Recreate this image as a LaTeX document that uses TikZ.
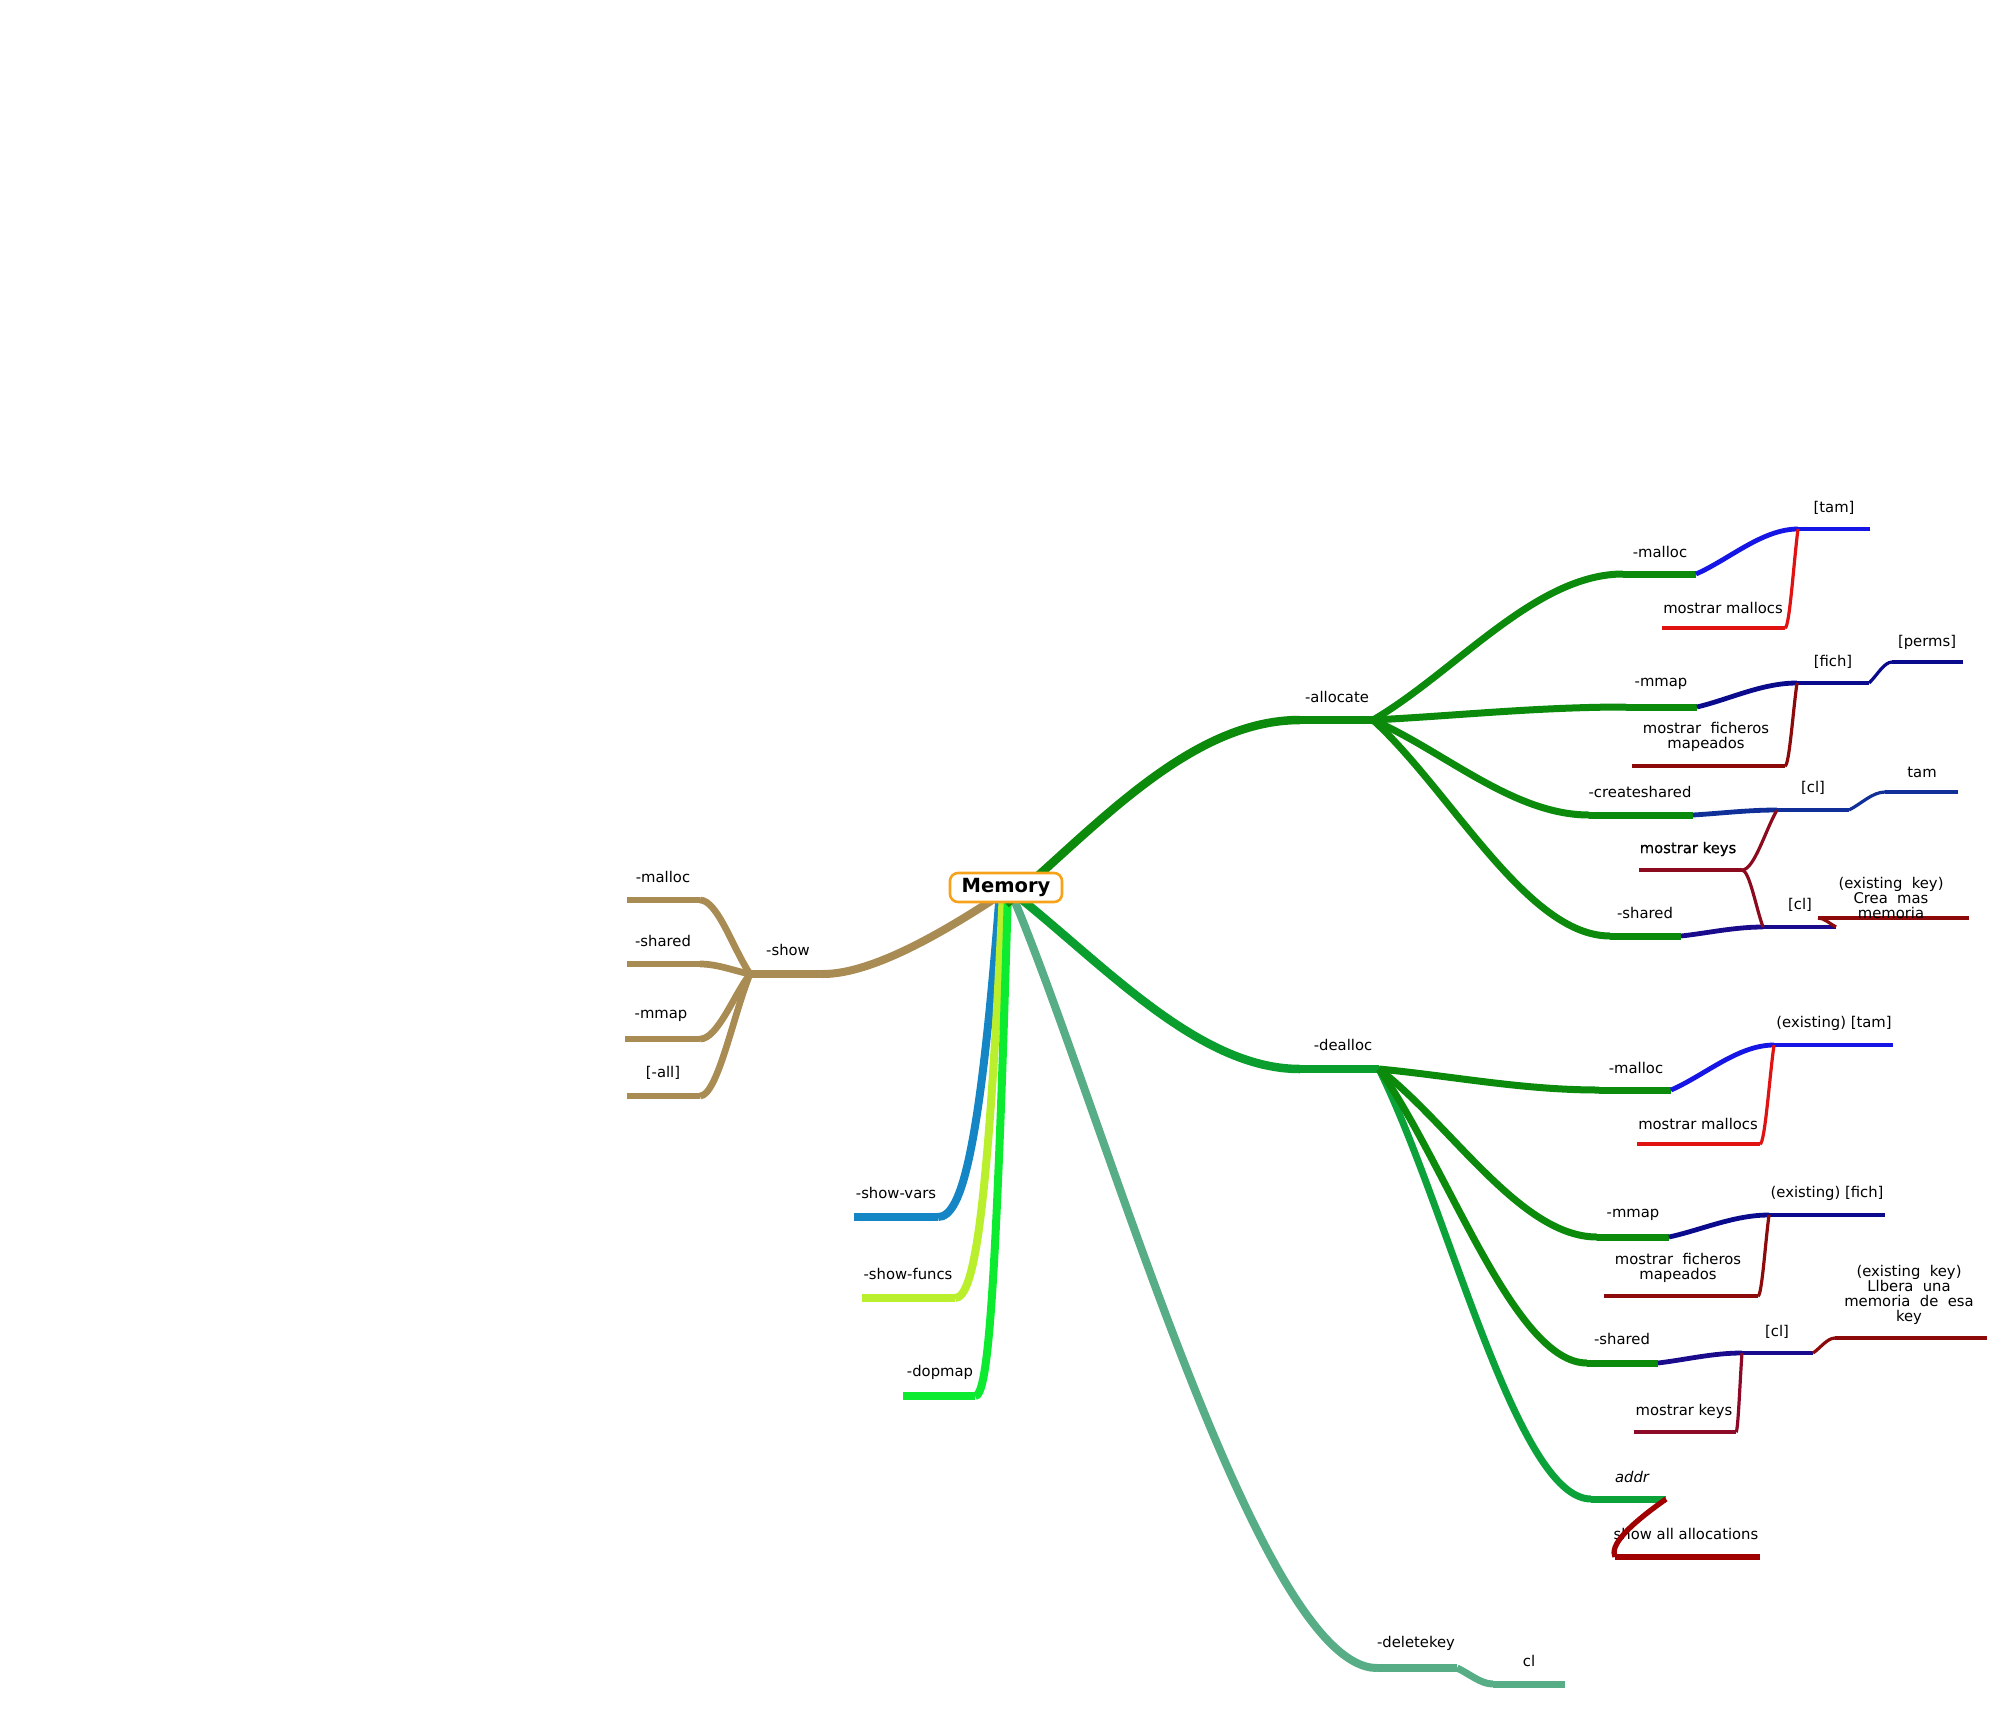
\documentclass[tikz,border=0pt]{standalone}
\usepackage{fontspec}
\setmainfont{DejaVu Sans}
\newfontfamily\heavyfont[FakeBold=0.6]{DejaVu Sans}
\usetikzlibrary{calc}
\definecolor{cTan}{HTML}{A98C53}
\definecolor{cVars}{HTML}{1586C5}
\definecolor{cFuncs}{HTML}{B9EF2D}
\definecolor{cDop}{HTML}{0DEB31}
\definecolor{cDel}{HTML}{57AD85}
\definecolor{cAlloc}{HTML}{0B8A0B}
\definecolor{cDeal}{HTML}{0A9E2E}
\definecolor{cAddr}{HTML}{0CA23A}
\definecolor{cBlue}{HTML}{1515E6}
\definecolor{cRed}{HTML}{E01212}
\definecolor{cNavy}{HTML}{0A0A8C}
\definecolor{cDRed}{HTML}{8C0A0A}
\definecolor{cCs}{HTML}{102F98}
\definecolor{cKeys}{HTML}{8C0A1E}
\definecolor{cPurp}{HTML}{1A0A8C}
\definecolor{cKeysB}{HTML}{8C0A28}
\definecolor{cAll}{HTML}{A00000}
\definecolor{cOrange}{HTML}{F7A21B}
\tikzset{
  lbl/.style={font=\fontsize{14.8}{15}\selectfont, inner sep=0pt, align=center, text=black},
  rootbox/.style={draw=cOrange, line width=2.6pt, fill=white, rounded corners=8pt,
    minimum width=112pt, minimum height=29pt, inner sep=0pt,
    font=\bfseries\fontsize{19.5}{20}\selectfont},
  bShow/.style={cTan, line width=8pt},
  bShowSub/.style={cTan, line width=6.7pt},
  bVars/.style={cVars, line width=8pt},
  bFuncs/.style={cFuncs, line width=8pt},
  bDop/.style={cDop, line width=8pt},
  bDel/.style={cDel, line width=8pt},
  bDelSub/.style={cDel, line width=7pt},
  bAlloc/.style={cAlloc, line width=8.5pt},
  bDeal/.style={cDeal, line width=8.5pt},
  bSub/.style={cAlloc, line width=7pt},
  bAddr/.style={cAddr, line width=7pt},
  bBlue/.style={cBlue, line width=4.8pt},
  bNavy/.style={cNavy, line width=4.8pt},
  bCs/.style={cCs, line width=4.8pt},
  bPurp/.style={cPurp, line width=4.8pt},
  bRed/.style={cRed, line width=3.2pt},
  bDRed/.style={cDRed, line width=3.2pt},
  bNavyThin/.style={cNavy, line width=3.2pt},
  bCsThin/.style={cCs, line width=3.2pt},
  bKeys/.style={cKeys, line width=3.2pt},
  bKeysB/.style={cKeysB, line width=3.2pt},
  bAll/.style={cAll, line width=5.3pt},
}
% topic: name, x1, x2, y, style, text x, text y, text
\newcommand\topic[8]{%
  \coordinate (#1-a) at (#2,#4);
  \coordinate (#1-b) at (#3,#4);
  \draw[#5] (#1-a) -- (#1-b);
  \node[lbl] (#1) at (#6,#7) {#8};}
% link curve from parent end to child end
\newcommand\lnk[3]{%
  \draw[#1] let \p1=(#2), \p2=(#3) in (\p1) .. controls
    ({\x1+0.33*(\x2-\x1)},{\y1+0.33*(\y2-\y1)}) and ({\x2+0.35*(\x1-\x2)},\y2) .. (\p2);}
\begin{document}
\begin{tikzpicture}[x=1pt,y=-1pt]
\useasboundingbox (0,0) rectangle (2012,1713);

% hidden start points behind the root box
\coordinate (sAlloc) at (1006,904);
\coordinate (sDeal) at (1006,887);
\coordinate (sShow) at (1006,891);
\coordinate (sVars) at (1000,890);
\coordinate (sFuncs) at (1003,890);
\coordinate (sDop) at (1008,890);
\coordinate (sDel) at (1010,890);

% ---------- -show ----------
\topic{show}{750}{823}{974}{bShow}{788}{950}{-show}
\draw[bShow] (sShow) .. controls (946,931) and (873,974) .. (show-b);
\topic{smalloc}{627}{700}{900}{bShowSub}{663}{877}{-malloc}
\topic{sshared}{627}{700}{964}{bShowSub}{663}{941}{-shared}
\topic{smmap}{625}{700}{1039}{bShowSub}{661}{1016}{-mmap}
\topic{sall}{627}{700}{1096}{bShowSub}{663}{1073}{[-all]}
\lnk{bShowSub}{show-a}{smalloc-b}
\lnk{bShowSub}{show-a}{sshared-b}
\lnk{bShowSub}{show-a}{smmap-b}
\lnk{bShowSub}{show-a}{sall-b}

% ---------- -deletekey ----------
\topic{delk}{1377}{1457}{1668}{bDel}{1416}{1643}{-deletekey}
\draw[bDel] (sDel) .. controls (1100,1100) and (1257,1668) .. (delk-a);
\topic{cl}{1493}{1565}{1684}{bDelSub}{1529}{1661}{cl}
\lnk{bDelSub}{delk-b}{cl-a}

% ---------- -show-vars / -show-funcs / -dopmap ----------
\topic{vars}{854}{938}{1217}{bVars}{896}{1193}{-show-vars}
\draw[bVars] (sVars) .. controls (980,1150) and (962,1217) .. (vars-b);
\topic{funcs}{862}{955}{1298}{bFuncs}{908}{1274}{-show-funcs}
\draw[bFuncs] (sFuncs) .. controls (988,1210) and (975,1298) .. (funcs-b);
\topic{dop}{903}{975}{1396}{bDop}{940}{1372}{-dopmap}
\draw[bDop] (sDop) .. controls (996,1300) and (988,1396) .. (dop-b);

% ---------- -allocate ----------
\topic{alloc}{1300}{1373}{720}{bAlloc}{1337}{697}{-allocate}
\draw[bAlloc] (sAlloc) .. controls (1096,827) and (1190,720) .. (alloc-a);
\topic{amalloc}{1623}{1696}{574}{bSub}{1660}{552}{-malloc}
\topic{ammap}{1626}{1697}{707}{bSub}{1661}{684}{-mmap}
\topic{acs}{1589}{1693}{815}{bSub}{1640}{792}{-createshared}
\topic{ash}{1610}{1681}{936}{bSub}{1645}{913}{-shared}
\lnk{bSub}{alloc-b}{amalloc-a}
\lnk{bSub}{alloc-b}{ammap-a}
\lnk{bSub}{alloc-b}{acs-a}
\lnk{bSub}{alloc-b}{ash-a}

\topic{atam}{1798}{1870}{529}{bBlue}{1834}{508}{[tam]}
\lnk{bBlue}{amalloc-b}{atam-a}
\topic{amm}{1662}{1785}{628}{bRed}{1723}{608}{mostrar mallocs}
\lnk{bRed}{atam-a}{amm-b}

\topic{afich}{1797}{1869}{683}{bNavy}{1833}{662}{[fich]}
\lnk{bNavy}{ammap-b}{afich-a}
\topic{aperms}{1892}{1963}{662}{bNavyThin}{1927}{642}{[perms]}
\lnk{bNavyThin}{afich-b}{aperms-a}
\topic{amf}{1632}{1785}{766}{bDRed}{1706}{737}{mostrar\ \ ficheros\\mapeados}
\lnk{bDRed}{afich-a}{amf-b}

\topic{acl}{1777}{1849}{810}{bCs}{1813}{788}{[cl]}
\lnk{bCs}{acs-b}{acl-a}
\topic{atam2}{1885}{1958}{792}{bCsThin}{1922}{772}{tam}
\lnk{bCsThin}{acl-b}{atam2-a}

\topic{ashcl}{1763}{1836}{927}{bPurp}{1800}{905}{[cl]}
\lnk{bPurp}{ash-b}{ashcl-a}

\topic{akeys}{1639}{1742}{870}{bKeys}{1688}{849}{{\heavyfont mostrar keys}}
\lnk{bKeys}{acl-a}{akeys-b}
\lnk{bKeys}{ashcl-a}{akeys-b}

\topic{acrea}{1818}{1969}{918}{bDRed}{1891}{898}{(existing\ \ key)\\Crea\ \ mas\\memoria}
\lnk{bDRed}{ashcl-b}{acrea-a}

% ---------- -dealloc ----------
\topic{deal}{1300}{1379}{1069}{bDeal}{1343}{1045}{-dealloc}
\draw[bDeal] (sDeal) .. controls (1100,960) and (1196,1069) .. (deal-a);
\topic{dmalloc}{1599}{1671}{1090}{bSub}{1636}{1068}{-malloc}
\topic{dmmap}{1597}{1669}{1237}{bSub}{1633}{1215}{-mmap}
\topic{dsh}{1587}{1658}{1363}{bSub}{1622}{1339}{-shared}
\topic{daddr}{1591}{1666}{1499}{bAddr}{1632}{1477}{\itshape addr}
\lnk{bAddr}{deal-b}{daddr-a}
\lnk{bSub}{deal-b}{dsh-a}
\lnk{bSub}{deal-b}{dmmap-a}
\lnk{bSub}{deal-b}{dmalloc-a}

\topic{dtam}{1774}{1893}{1045}{bBlue}{1834}{1023}{(existing) [tam]}
\lnk{bBlue}{dmalloc-b}{dtam-a}
\topic{dmm}{1637}{1760}{1144}{bRed}{1698}{1124}{mostrar mallocs}
\lnk{bRed}{dtam-a}{dmm-b}

\topic{dfich}{1769}{1885}{1215}{bNavy}{1827}{1193}{(existing) [fich]}
\lnk{bNavy}{dmmap-b}{dfich-a}
\topic{dmf}{1604}{1758}{1296}{bDRed}{1678}{1268}{mostrar\ \ ficheros\\mapeados}
\lnk{bDRed}{dfich-a}{dmf-b}

\topic{dcl}{1742}{1813}{1353}{bPurp}{1777}{1332}{[cl]}
\lnk{bPurp}{dsh-b}{dcl-a}
\topic{dll}{1835}{1987}{1338}{bDRed}{1909}{1294.5}{(existing\ \ key)\\Llbera\ \ una\\memoria\ \ de\ \ esa\\key}
\lnk{bDRed}{dcl-b}{dll-a}
\topic{dkeys}{1634}{1736}{1432}{bKeysB}{1684}{1411}{mostrar keys}
\lnk{bKeysB}{dcl-a}{dkeys-b}

\topic{dall}{1615}{1760}{1557}{bAll}{1686}{1534}{show all allocations}
\draw[bAll] (daddr-b) .. controls (1625,1528) and (1610,1546) .. (dall-a);

% ---------- root ----------
\node[rootbox] (mem) at (1006,887.5) {Memory};
\end{tikzpicture}
\end{document}
